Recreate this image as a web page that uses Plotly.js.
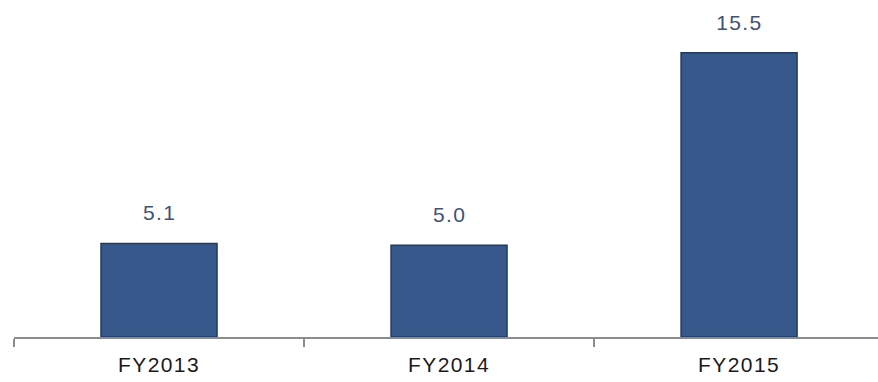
<!DOCTYPE html>
<html>
<head>
<meta charset="utf-8">
<script src="https://cdn.plot.ly/plotly-3.0.1.min.js"></script>
<style>
  html, body { margin: 0; padding: 0; background: #ffffff; }
  #chart { width: 878px; height: 382px; }
  /* slightly tracked-out lettering for the labels */
  #chart .xtick text, #chart .annotation-text { letter-spacing: 1.4px; }
</style>
</head>
<body>
<div id="chart"></div>
<script>
// Fiscal-year values
const categories = ["FY2013", "FY2014", "FY2015"];
const values = [5.1, 5.0, 15.5];
const valueLabels = ["5.1", "5.0", "15.5"];

const FONT = "Liberation Sans, Arial, sans-serif";

const barTrace = {
  type: "bar",
  x: categories,
  y: values,
  width: 0.4,
  marker: {
    color: "#37588B",
    line: { color: "#223B61", width: 1.5 }
  },
  hoverinfo: "skip"
};

// Value labels sitting above each bar
const annotations = categories.map((c, i) => ({
  x: c,
  y: values[i],
  text: valueLabels[i],
  showarrow: false,
  yanchor: "bottom",
  yshift: 17,
  font: { family: FONT, size: 21, color: "#415274" }
}));

const layout = {
  width: 878,
  height: 382,
  margin: { l: 14, r: 0, t: 0, b: 45 },
  paper_bgcolor: "#ffffff",
  plot_bgcolor: "#ffffff",
  showlegend: false,
  xaxis: {
    type: "category",
    range: [-0.5, 2.479],
    showline: true,
    linecolor: "#8C8C8C",
    linewidth: 2,
    ticks: "outside",
    tickson: "boundaries",
    ticklen: 8,
    tickwidth: 2,
    tickcolor: "#8C8C8C",
    ticklabelstandoff: 8,
    showgrid: false,
    zeroline: false,
    tickfont: { family: FONT, size: 21, color: "#1a1a1a" },
    fixedrange: true
  },
  yaxis: {
    range: [0, 18.37],
    visible: false,
    showgrid: false,
    zeroline: false,
    fixedrange: true
  },
  annotations: annotations
};

Plotly.newPlot("chart", [barTrace], layout, { displayModeBar: false, staticPlot: true });
</script>
</body>
</html>
